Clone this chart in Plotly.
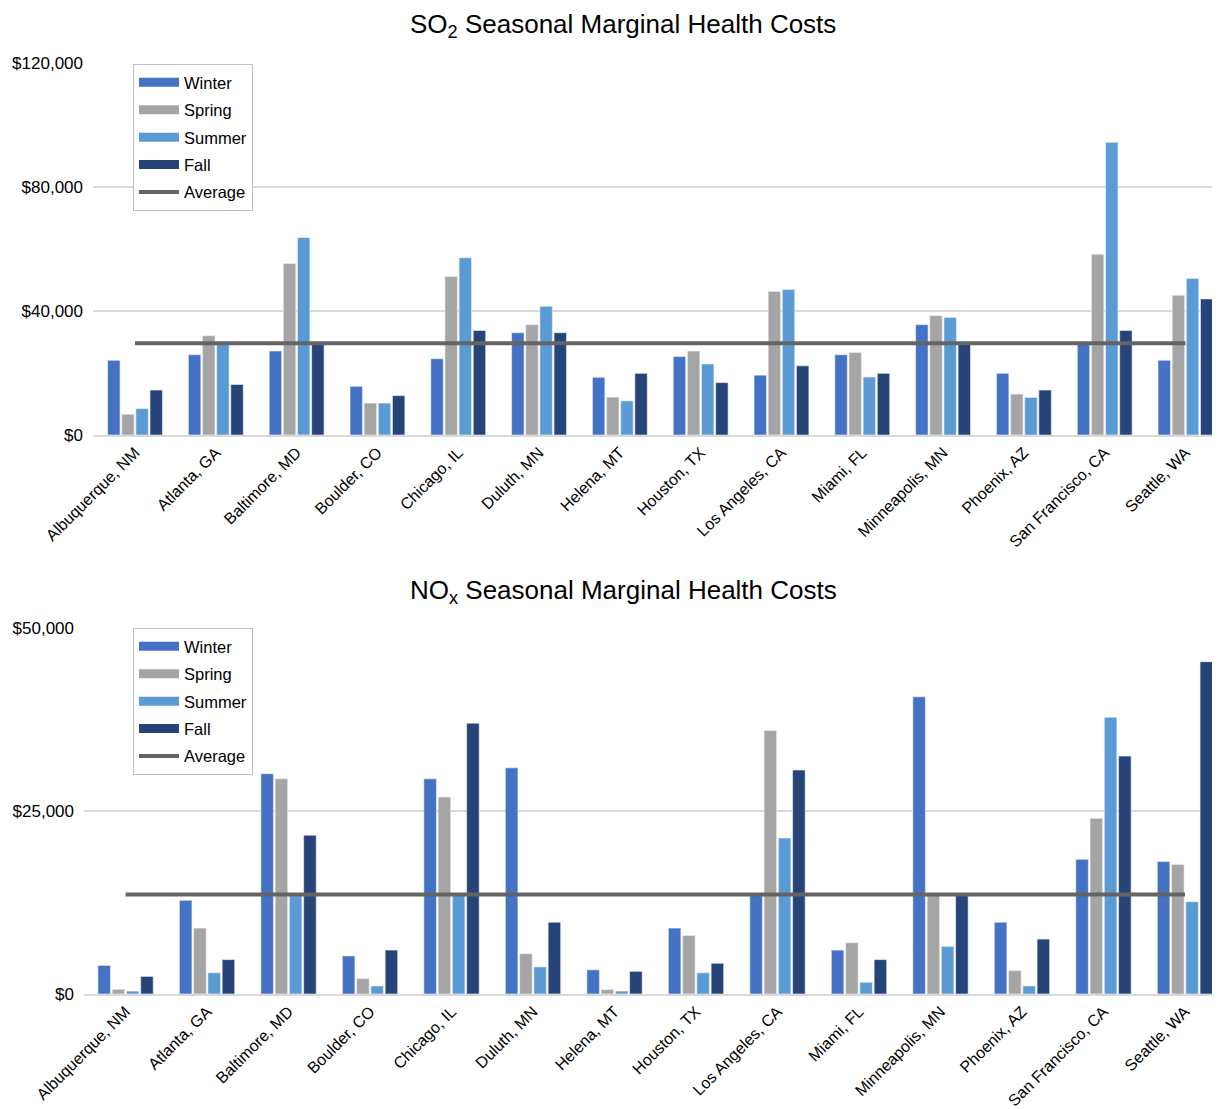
import plotly.graph_objects as go

cities = ["Albuquerque, NM", "Atlanta, GA", "Baltimore, MD", "Boulder, CO", "Chicago, IL",
          "Duluth, MN", "Helena, MT", "Houston, TX", "Los Angeles, CA", "Miami, FL",
          "Minneapolis, MN", "Phoenix, AZ", "San Francisco, CA", "Seattle, WA"]

so2_winter = [24100, 25900, 27100, 15700, 24600, 33000, 18600, 25300, 19300, 25900, 35600, 19900, 29400, 24100]
so2_spring = [6700, 32000, 55300, 10300, 51100, 35600, 12200, 27100, 46300, 26600, 38500, 13200, 58300, 45100]
so2_summer = [8500, 29400, 63700, 10300, 57200, 41500, 11000, 22900, 46900, 18700, 37900, 12100, 94400, 50500]
so2_fall = [14500, 16300, 29400, 12700, 33700, 33000, 19900, 16900, 22300, 19900, 29400, 14500, 33700, 43900]
so2_average = 29600

nox_winter = [3900, 12800, 30100, 5200, 29400, 30900, 3300, 9000, 13500, 6000, 40600, 9800, 18400, 18100]
nox_spring = [640, 9000, 29400, 2100, 26900, 5500, 600, 8000, 36000, 7000, 13700, 3200, 24000, 17700]
nox_summer = [400, 2900, 13500, 1100, 13500, 3700, 400, 2900, 21300, 1600, 6500, 1100, 37800, 12600]
nox_fall = [2400, 4700, 21700, 6000, 37000, 9800, 3100, 4200, 30600, 4700, 13500, 7500, 32500, 45400]
nox_average = 13600

seasons = ["Winter", "Spring", "Summer", "Fall"]
colors = {"Winter": "#4472C4", "Spring": "#A5A5A5", "Summer": "#5B9BD5", "Fall": "#264478"}
avg_color = "#646464"
FONT = "Liberation Sans, Arial, sans-serif"

# the page body adds an 8px margin, so the figure is drawn 8px in from the window corner
OFF = 8
W, H = 1220 - OFF, 1109 - OFF
fig = go.Figure()

panels = [
    ("x", "y", "legend", [so2_winter, so2_spring, so2_summer, so2_fall], so2_average),
    ("x2", "y2", "legend2", [nox_winter, nox_spring, nox_summer, nox_fall], nox_average),
]

for xa, ya, lg, series, avg in panels:
    for s, vals in zip(seasons, series):
        fig.add_trace(go.Bar(x=cities, y=vals, name=s, xaxis=xa, yaxis=ya,
                             marker=dict(color=colors[s], line=dict(color="#F2F2F2", width=0.6)),
                             showlegend=False, offsetgroup=s))
    fig.add_trace(go.Scatter(x=cities, y=[avg] * len(cities), mode="lines", xaxis=xa, yaxis=ya,
                             line=dict(color=avg_color, width=4), showlegend=False, name="Average"))
    # legend entries (wide swatches like the original)
    for s in seasons:
        fig.add_trace(go.Scatter(x=[None], y=[None], mode="lines", name=s, xaxis=xa, yaxis=ya,
                                 line=dict(color=colors[s], width=9), legend=lg, legendgroup=s + lg))
    fig.add_trace(go.Scatter(x=[None], y=[None], mode="lines", name="Average", xaxis=xa, yaxis=ya,
                             line=dict(color=avg_color, width=4), legend=lg, legendgroup="avg" + lg))

def px_x(p):
    return (p - OFF) / W

def px_y(p):
    return 1 - (p - OFF) / H

grid = "#D9D9D9"
ytickfont = dict(family=FONT, size=17, color="#000000")
xtickfont = dict(family=FONT, size=16, color="#000000")

legend_style = dict(bgcolor="white", bordercolor="#BFBFBF", borderwidth=1,
                    font=dict(family=FONT, size=16.5, color="#000000"),
                    xanchor="left", yanchor="top", tracegroupgap=3, itemwidth=40)

fig.update_layout(
    width=W, height=H,
    margin=dict(l=0, r=0, t=0, b=0),
    paper_bgcolor="white", plot_bgcolor="white",
    barmode="group", bargap=0.3, bargroupgap=0.12,
    font=dict(family=FONT),
    xaxis=dict(domain=[px_x(93), 1], anchor="y", type="category", automargin=False,
               range=[-0.52, 13.427], tickangle=-45, tickfont=xtickfont,
               showline=True, linecolor=grid, linewidth=2, ticks="", showgrid=False),
    yaxis=dict(domain=[px_y(435), px_y(63)], anchor="x", range=[0, 120000], automargin=False,
               tickvals=[0, 40000, 80000, 120000], tickformat="$,.0f", tickfont=ytickfont,
               ticklabelstandoff=9,
               showgrid=True, gridcolor=grid, gridwidth=1.5, zeroline=False, showline=False),
    xaxis2=dict(domain=[px_x(84), 1], anchor="y2", type="category", automargin=False,
                range=[-0.51, 13.43], tickangle=-45, tickfont=xtickfont,
                showline=True, linecolor=grid, linewidth=2, ticks="", showgrid=False),
    yaxis2=dict(domain=[px_y(994), px_y(628)], anchor="x2", range=[0, 50000], automargin=False,
                tickvals=[0, 25000, 50000], tickformat="$,.0f", tickfont=ytickfont,
                ticklabelstandoff=9,
                showgrid=True, gridcolor=grid, gridwidth=1.5, zeroline=False, showline=False),
    legend=dict(x=px_x(133), y=px_y(64), **legend_style),
    legend2=dict(x=px_x(133), y=px_y(628), **legend_style),
    annotations=[
        dict(text="SO<sub>2</sub> Seasonal Marginal Health Costs", x=px_x(623), y=px_y(25),
             xref="paper", yref="paper", showarrow=False, xanchor="center", yanchor="middle",
             font=dict(family=FONT, size=26, color="#000000")),
        dict(text="NO<sub>x</sub> Seasonal Marginal Health Costs", x=px_x(623), y=px_y(591),
             xref="paper", yref="paper", showarrow=False, xanchor="center", yanchor="middle",
             font=dict(family=FONT, size=26, color="#000000")),
    ],
)

fig.write_html("out.html")
